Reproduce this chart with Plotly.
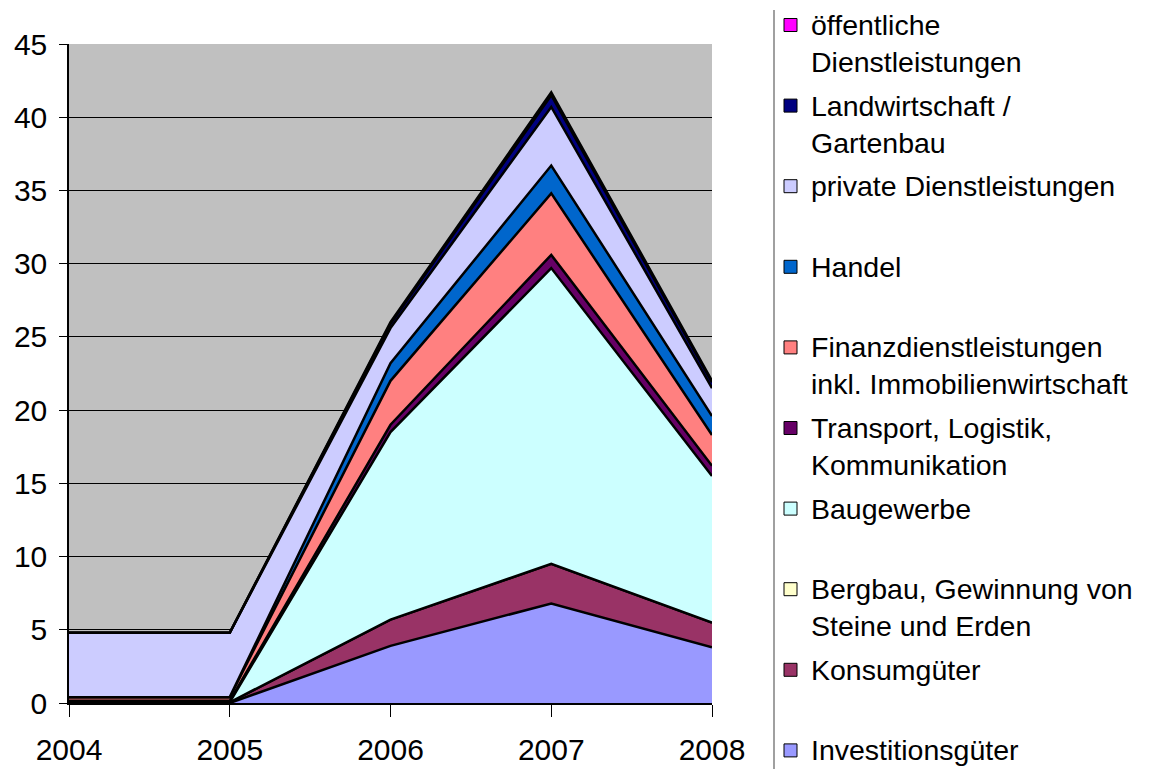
import plotly.graph_objects as go

years = [2004, 2005, 2006, 2007, 2008]

# stacked series, bottom to top
investitionsgueter = [0.0, 0.0, 3.9, 6.8, 3.8]
konsumgueter = [0.05, 0.05, 1.8, 2.7, 1.7]
bergbau = [0.0, 0.0, 0.0, 0.0, 0.0]
baugewerbe = [0.0, 0.0, 12.8, 20.2, 10.0]
transport = [0.1, 0.1, 0.5, 0.9, 0.7]
finanz = [0.25, 0.25, 3.0, 4.2, 2.1]
handel = [0.0, 0.0, 1.2, 1.9, 1.3]
private_dl = [4.4, 4.4, 2.4, 4.0, 1.9]
landwirtschaft = [0.0, 0.0, 0.3, 0.8, 0.4]
oeffentliche = [0.0, 0.0, 0.1, 0.2, 0.1]

series = [
    (["Investitionsgüter"], investitionsgueter, "#9999FF"),
    (["Konsumgüter"], konsumgueter, "#993366"),
    (["Bergbau, Gewinnung von", "Steine und Erden"], bergbau, "#FFFFCC"),
    (["Baugewerbe"], baugewerbe, "#CCFFFF"),
    (["Transport, Logistik,", "Kommunikation"], transport, "#660066"),
    (["Finanzdienstleistungen", "inkl. Immobilienwirtschaft"], finanz, "#FF8080"),
    (["Handel"], handel, "#0066CC"),
    (["private Dienstleistungen"], private_dl, "#CCCCFF"),
    (["Landwirtschaft /", "Gartenbau"], landwirtschaft, "#000080"),
    (["öffentliche", "Dienstleistungen"], oeffentliche, "#FF00FF"),
]

W, H = 1149, 769
L, R, T, B = 69, 712, 44, 703
FONT = "Liberation Sans, Arial, sans-serif"


def px2x(px):
    return (px - L) / (R - L)


def py2y(py):
    return (B - py) / (B - T)


fig = go.Figure()
for names, vals, col in series:
    fig.add_trace(go.Scatter(
        x=years, y=vals, name=" ".join(names), stackgroup="one",
        mode="lines", line=dict(color="black", width=2.5),
        fillcolor=col, showlegend=False, hoverinfo="skip",
    ))

shapes = []
annotations = []
# legend separator
shapes.append(dict(type="line", xref="paper", yref="paper",
                   x0=px2x(774), x1=px2x(774), y0=py2y(10), y1=py2y(769),
                   line=dict(color="#808080", width=1.5)))

legend_items = list(reversed(series))
for i, (names, vals, col) in enumerate(legend_items):
    cy = 25 + 80.6 * i
    shapes.append(dict(type="rect", xref="paper", yref="paper",
                       x0=px2x(784), x1=px2x(797), y0=py2y(cy - 6.5), y1=py2y(cy + 6.5),
                       fillcolor=col, line=dict(color="black", width=1)))
    for j, line_txt in enumerate(names):
        annotations.append(dict(
            text=line_txt, xref="paper", yref="paper",
            x=px2x(809), y=py2y(cy + 37 * j), xanchor="left", yanchor="middle",
            showarrow=False, font=dict(family=FONT, size=28.5, color="black")))

fig.update_layout(
    width=W, height=H,
    margin=dict(l=L, r=W - R, t=T, b=H - B, autoexpand=False),
    paper_bgcolor="white", plot_bgcolor="#C0C0C0",
    shapes=shapes, annotations=annotations,
    font=dict(family=FONT, size=30, color="black"),
    showlegend=False,
)
fig.update_xaxes(range=[2004, 2008], tickvals=years, ticktext=[str(y) for y in years],
                 showgrid=False, zeroline=False, showline=True, linecolor="black", linewidth=1.5,
                 ticks="outside", ticklen=12, tickcolor="black", tickwidth=1,
                 ticklabelstandoff=7, automargin=False,
                 tickfont=dict(family=FONT, size=30, color="black"))
fig.update_yaxes(range=[0, 45], dtick=5, showgrid=True, gridcolor="black", gridwidth=1,
                 zeroline=False, showline=True, linecolor="black", linewidth=1.5,
                 ticks="outside", ticklen=8, tickcolor="black", tickwidth=1,
                 ticklabelstandoff=6, automargin=False,
                 tickfont=dict(family=FONT, size=30, color="black"))

fig.write_html("out.html", config={"displayModeBar": False},
               post_script="document.body.style.margin='0';document.body.style.padding='0';")
